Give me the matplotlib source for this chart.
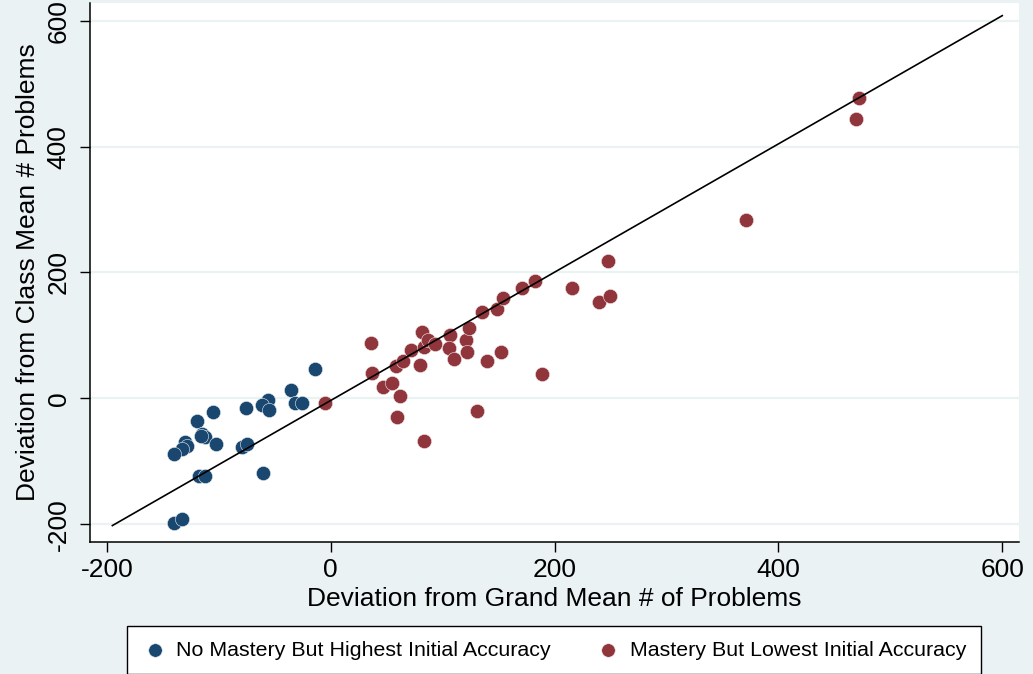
#!/usr/bin/env python3
"""Deviation scatter: class mean vs grand mean number of problems."""
import matplotlib

matplotlib.use("Agg")
import matplotlib.pyplot as plt  # noqa: E402

plt.rcParams["font.family"] = ["Liberation Sans", "DejaVu Sans"]
plt.rcParams["axes.unicode_minus"] = False

BG = "#EAF2F3"
BLUE = "#1A476F"
RED = "#90353B"

# No mastery but highest initial accuracy
blue_x = [-14, -35, -56, -61, -55, -76, -32, -26, -105, -119, -115, -112, -116,
          -102, -130, -128, -133, -140, -79, -75, -118, -112, -60, -140, -133]
blue_y = [46, 14, -3, -11, -19, -16, -8, -8, -21, -36, -56, -61, -59,
          -73, -69, -76, -81, -89, -77, -72, -123, -123, -118, -198, -192]

# Mastery but lowest initial accuracy
red_x = [-5, 36, 37, 47, 55, 62, 59, 83, 58, 65, 72, 80, 82, 83, 87, 93, 107,
         106, 110, 121, 122, 124, 131, 135, 140, 149, 154, 152, 171, 183, 189,
         216, 240, 250, 248, 371, 469, 472]
red_y = [-7, 88, 40, 18, 25, 4, -30, -68, 51, 59, 77, 53, 105, 81, 92, 86, 100,
         80, 62, 92, 74, 112, -20, 138, 60, 142, 159, 73, 175, 186, 38,
         175, 153, 162, 219, 283, 444, 477]

# fitted line endpoints
fit_x = [-195, 600]
fit_y = [-202, 608]

ticks = [-200, 0, 200, 400, 600]

fig = plt.figure(figsize=(10.33, 6.74), dpi=100, facecolor=BG)
ax = fig.add_axes([0.0871, 0.1963, 0.8994, 0.7988])
ax.set_facecolor("white")

for t in ticks:
    ax.axhline(t, color=BG, linewidth=1.6, zorder=0)

ax.scatter(blue_x, blue_y, s=105, color=BLUE, edgecolors="#e8eef2",
           linewidths=0.4, zorder=3, label="No Mastery But Highest Initial Accuracy")
ax.scatter(red_x, red_y, s=105, color=RED, edgecolors="#f2e8e8",
           linewidths=0.4, zorder=3, label="Mastery But Lowest Initial Accuracy")
ax.plot(fit_x, fit_y, color="black", linewidth=1.2, zorder=4)

ax.set_xlim(-215, 615)
ax.set_ylim(-227.6, 627.6)
ax.set_xticks(ticks)
ax.set_yticks(ticks)
ax.tick_params(direction="out", length=7, width=1, labelsize=19)
ax.tick_params(axis="x", pad=5)
ax.tick_params(axis="y", pad=7)
for lab in ax.get_yticklabels():
    lab.set_rotation(90)
    lab.set_va("center")

for side in ("top", "right"):
    ax.spines[side].set_visible(False)
for side in ("left", "bottom"):
    ax.spines[side].set_linewidth(1.1)

ax.set_xlabel("Deviation from Grand Mean # of Problems", fontsize=19, labelpad=3)
ax.set_ylabel("Deviation from Class Mean # Problems", fontsize=19, labelpad=5)

leg = fig.legend(loc="center", bbox_to_anchor=(554 / 1033, 24 / 674), ncol=2,
                 fontsize=15.4, frameon=True, fancybox=False, edgecolor="black",
                 facecolor="white", framealpha=1, markerscale=0.95,
                 handletextpad=0.4, columnspacing=2.1, borderpad=0.7,
                 handlelength=1.2)
leg.get_frame().set_linewidth(1.0)

fig.savefig("out.png", dpi=100, facecolor=BG)
